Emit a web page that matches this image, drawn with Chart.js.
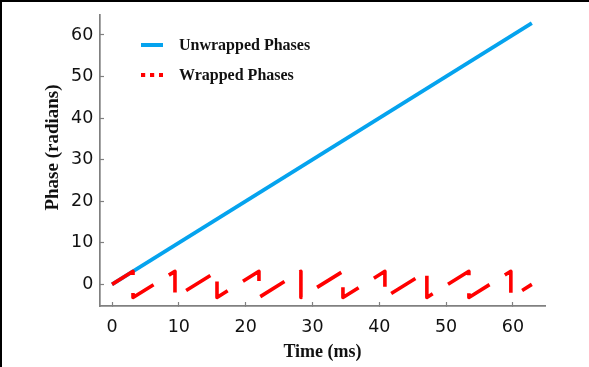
<!DOCTYPE html>
<html>
<head>
<meta charset="utf-8">
<script src="https://cdn.jsdelivr.net/npm/chart.js@4"></script>
<style>
  html, body { margin: 0; padding: 0; background: #fff; }
  #wrap { width: 589px; height: 367px; position: relative; }
</style>
</head>
<body>
<div id="wrap"><canvas id="phaseChart" width="589" height="367"></canvas></div>
<script>
// series
const unwrappedTime = [0, 62.83];
const unwrappedPhase = [0, 62.83];
const wrappedTime = [0, 3.14, 3.14, 9.42, 9.42, 15.71, 15.71, 21.99, 21.99, 28.27, 28.27,
  34.56, 34.56, 40.84, 40.84, 47.12, 47.12, 53.41, 53.41, 59.69, 59.69, 62.83];
const wrappedPhase = [0, 3.14, -3.14, 3.14, -3.14, 3.14, -3.14, 3.14, -3.14, 3.14, -3.14,
  3.14, -3.14, 3.14, -3.14, 3.14, -3.14, 3.14, -3.14, 3.14, -3.14, 0];
const xTicks = [0, 10, 20, 30, 40, 50, 60];
const yTicks = [0, 10, 20, 30, 40, 50, 60];
const seriesNames = ['Unwrapped Phases', 'Wrapped Phases'];
const yTitle = 'Phase (radians)';

const blue = '#05a3ee';
const red = '#ff0000';
const spine = '#808080';

function toPoints(xs, ys) {
  return xs.map((x, i) => ({ x: x, y: ys[i] }));
}

// frame, y label and hand drawn legend (matplotlib style)
const decorations = {
  id: 'decorations',
  afterDraw(chart) {
    const ctx = chart.ctx;
    const area = chart.chartArea;
    ctx.save();
    ctx.fillStyle = '#000';
    ctx.fillRect(0, 0, chart.width, 2);
    ctx.fillRect(0, 0, 2, chart.height);

    // y label sits a little above the axes centre in the original
    ctx.save();
    ctx.translate(53, 147.5);
    ctx.rotate(-Math.PI / 2);
    ctx.fillStyle = '#111';
    ctx.font = 'bold 19px "Liberation Serif", "Times New Roman", serif';
    ctx.textAlign = 'center';
    ctx.textBaseline = 'middle';
    ctx.fillText(yTitle, 0, 0);
    ctx.restore();

    const x0 = area.left + 41;
    const rows = [area.top + 30, area.top + 60];
    ctx.lineCap = 'butt';

    ctx.strokeStyle = blue;
    ctx.lineWidth = 4;
    ctx.beginPath();
    ctx.moveTo(x0, rows[0]);
    ctx.lineTo(x0 + 22, rows[0]);
    ctx.stroke();

    ctx.strokeStyle = red;
    ctx.setLineDash([4.2, 4.8]);
    ctx.beginPath();
    ctx.moveTo(x0, rows[1]);
    ctx.lineTo(x0 + 22, rows[1]);
    ctx.stroke();
    ctx.setLineDash([]);

    ctx.fillStyle = '#111';
    ctx.font = 'bold 16px "Liberation Serif", "Times New Roman", serif';
    ctx.textBaseline = 'middle';
    ctx.textAlign = 'left';
    seriesNames.forEach((name, i) => ctx.fillText(name, x0 + 38, rows[i] + 1));
    ctx.restore();
  }
};

const ctx = document.getElementById('phaseChart').getContext('2d');
const phaseChart = new Chart(ctx, {
  type: 'scatter',
  data: {
    datasets: [{
      label: seriesNames[0],
      data: toPoints(unwrappedTime, unwrappedPhase),
      showLine: true,
      borderColor: blue,
      backgroundColor: blue,
      borderWidth: 3.8,
      pointRadius: 0,
      tension: 0,
      order: 1
    }, {
      label: seriesNames[1],
      data: toPoints(wrappedTime, wrappedPhase),
      showLine: true,
      borderColor: red,
      backgroundColor: red,
      borderWidth: 3.6,
      borderDash: [28.5, 18],
      borderCapStyle: 'butt',
      borderJoinStyle: 'round',
      pointRadius: 0,
      tension: 0,
      order: 0
    }]
  },
  options: {
    responsive: false,
    animation: false,
    layout: { padding: { left: 0, right: 44, top: 15, bottom: 0 } },
    plugins: {
      legend: { display: false },
      tooltip: { enabled: false }
    },
    scales: {
      x: {
        type: 'linear',
        min: -1.8,
        max: 64.8,
        afterFit: s => { s.height = 61; s.paddingLeft = 0; s.paddingRight = 0; },
        afterBuildTicks: s => { s.ticks = xTicks.map(v => ({ value: v })); },
        // negative tick length -> ticks point into the plot like the original
        grid: { drawOnChartArea: false, drawTicks: true, tickLength: -4, color: spine, tickWidth: 1.2 },
        border: { color: spine, width: 1.7 },
        ticks: { color: '#111', padding: 15, maxRotation: 0, font: { family: 'DejaVu Sans', size: 17.5 } },
        title: {
          display: true,
          text: 'Time (ms)',
          color: '#111',
          padding: { top: 0, bottom: 4 },
          font: { family: 'Liberation Serif', size: 18, weight: 'bold' }
        }
      },
      y: {
        type: 'linear',
        min: -5.2,
        max: 64.8,
        afterFit: s => { s.width = 100; s.paddingTop = 0; s.paddingBottom = 0; },
        afterBuildTicks: s => { s.ticks = yTicks.map(v => ({ value: v })); },
        grid: { drawOnChartArea: false, drawTicks: true, tickLength: -4, color: spine, tickWidth: 1.2 },
        border: { color: spine, width: 1.7 },
        ticks: { color: '#111', padding: 10.7, font: { family: 'DejaVu Sans', size: 17.5 } },
        title: { display: false }
      }
    }
  },
  plugins: [decorations]
});
</script>
</body>
</html>
